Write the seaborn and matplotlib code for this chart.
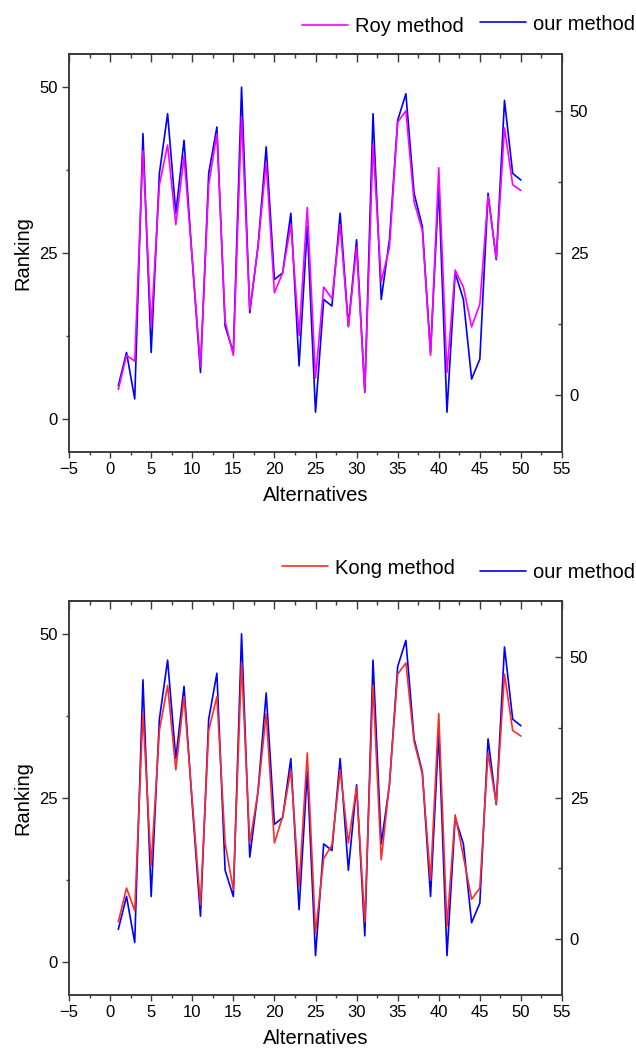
import matplotlib
matplotlib.use('Agg')
import matplotlib.pyplot as plt
import seaborn as sns
from matplotlib.ticker import MultipleLocator
from matplotlib.lines import Line2D

# data
alternatives = list(range(1, 51))
our_method = [5, 10, 3, 43, 10, 37, 46, 31, 42, 24, 7, 37, 44, 14, 10, 50, 16, 26, 41, 21,
              22, 31, 8, 29, 1, 18, 17, 31, 14, 27, 4, 46, 18, 27, 45, 49, 34, 29, 10, 35,
              1, 22, 18, 6, 9, 34, 24, 48, 37, 36]
roy_method = [1, 7, 6, 43, 12, 37, 44, 30, 42, 24, 5, 37, 46, 13, 7, 49, 15, 26, 41, 18,
              21.5, 30, 10.5, 33, 3, 19, 17, 30, 12, 26, 0.6, 44, 20, 26, 48, 50, 34, 29, 7, 40,
              4, 22, 19, 12, 16, 35, 24, 47, 37, 36]
kong_method = [3, 9, 5, 40, 13, 37, 45, 30, 43, 24.5, 6, 37, 43, 17, 8.7, 49, 17, 26, 40, 17,
               21.7, 30, 9.3, 33, 1, 14.3, 16.6, 30, 17, 27, 3, 45, 14, 27.6, 47, 49, 35, 29.3, 10.4, 40,
               2.2, 22, 14.6, 7, 9, 33, 24, 47, 37, 36]

sns.set_style('ticks')
plt.rcParams['font.family'] = ['Liberation Sans', 'DejaVu Sans']
plt.rcParams['text.color'] = 'black'
plt.rcParams['axes.labelcolor'] = 'black'
plt.rcParams['xtick.labelcolor'] = 'black'
plt.rcParams['ytick.labelcolor'] = 'black'

fig = plt.figure(figsize=(6.36, 10.56), dpi=100)
W, H = 636, 1056
spine_col = '#3a3a3a'


def draw_panel(top, bottom, other, other_color, other_label, leg_pos):
    rect = [69 / W, 1 - bottom / H, 493 / W, (bottom - top) / H]
    ax = fig.add_axes(rect)
    ax2 = ax.twinx()
    sns.lineplot(x=alternatives, y=our_method, ax=ax, color='#0000FF', lw=1.2)
    sns.lineplot(x=alternatives, y=other, ax=ax2, color=other_color, lw=1.2)

    ax.set_xlim(-5, 55)
    ax.set_ylim(-5, 55)
    ax2.set_ylim(-10, 60)

    ax.xaxis.set_major_locator(MultipleLocator(5))
    ax.xaxis.set_minor_locator(MultipleLocator(2.5))
    ax.yaxis.set_major_locator(MultipleLocator(25))
    ax.yaxis.set_minor_locator(MultipleLocator(12.5))
    ax2.yaxis.set_major_locator(MultipleLocator(25))
    ax2.yaxis.set_minor_locator(MultipleLocator(12.5))

    ax.tick_params(axis='x', which='major', direction='out', length=4.5, width=1, labelsize=12,
                   color=spine_col, pad=3)
    ax.tick_params(axis='x', which='minor', direction='out', length=2.5, width=1, color=spine_col)
    ax.tick_params(axis='y', which='major', direction='out', length=5, width=1, labelsize=12,
                   color=spine_col, pad=3)
    ax.tick_params(axis='y', which='minor', direction='out', length=2.5, width=1, color=spine_col)
    ax2.tick_params(axis='y', which='major', direction='in', length=5, width=1, labelsize=12,
                    color=spine_col, pad=5.5)
    ax2.tick_params(axis='y', which='minor', direction='in', length=3, width=1, color=spine_col)

    sec = ax.secondary_xaxis('top')
    sec.xaxis.set_major_locator(MultipleLocator(5))
    sec.xaxis.set_minor_locator(MultipleLocator(2.5))
    sec.tick_params(axis='x', which='major', direction='in', length=5.5, width=1, labeltop=False,
                    color=spine_col)
    sec.tick_params(axis='x', which='minor', direction='in', length=3, width=1, color=spine_col)

    for a in (ax, ax2, sec):
        for s in a.spines.values():
            s.set_color(spine_col)
            s.set_linewidth(1.1)
    for s in ('top', 'right', 'left', 'bottom'):
        ax2.spines[s].set_visible(True)

    ax.set_xlabel('Alternatives', fontsize=14.5, labelpad=6)
    ax.set_ylabel('Ranking', fontsize=14.5, labelpad=5)
    ax2.set_ylabel('')

    # two separate legends above the plot
    fig.legend(handles=[Line2D([], [], color=other_color, lw=1.2)], labels=[other_label],
               loc='center left', bbox_to_anchor=(leg_pos[0] / W, 1 - leg_pos[1] / H),
               frameon=False, fontsize=14.5, handlelength=2.3, handletextpad=0.35,
               borderpad=0, borderaxespad=0)
    fig.legend(handles=[Line2D([], [], color='#0000FF', lw=1.2)], labels=['our method'],
               loc='center left', bbox_to_anchor=(480 / W, 1 - leg_pos[2] / H),
               frameon=False, fontsize=14.5, handlelength=2.3, handletextpad=0.35,
               borderpad=0, borderaxespad=0)


draw_panel(54, 452, roy_method, '#FF00FF', 'Roy method', (302, 27, 24))
draw_panel(601, 995, kong_method, '#FF2A2A', 'Kong method', (282, 568, 573))

fig.savefig('out.png', dpi=100)
